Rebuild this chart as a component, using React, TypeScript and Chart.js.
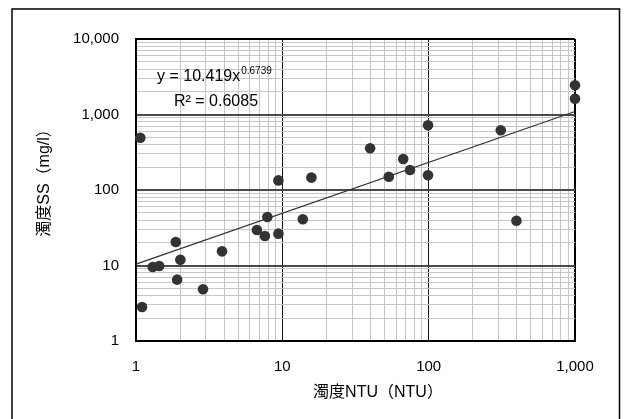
import React, { useEffect, useRef } from 'react';
import { Chart, registerables } from 'chart.js';

Chart.register(...registerables);

// ---- data ----
const turbidityNTU = [1.07, 1.1, 1.3, 1.44, 1.87, 1.91, 2.01, 2.87, 3.87, 6.7, 7.6, 7.9, 9.4, 9.4, 13.8, 15.8, 39.8, 53.4, 67, 74.6, 99, 99, 311, 398, 1000, 1000];
const turbiditySS = [493, 2.82, 9.55, 9.85, 20.5, 6.5, 11.9, 4.84, 15.4, 29.5, 24.6, 43.9, 134, 26.4, 41, 146, 357, 150, 257, 184, 719, 157, 618, 39.2, 2437, 1619];

const xTickLabels = ['1', '10', '100', '1,000'];
const yTickLabels = ['1', '10', '100', '1,000', '10,000'];
const xTitle = '濁度NTU（NTU）';
const yTitle = '濁度SS（mg/l）';

// power trendline shown in the chart: y = 10.419 x^0.6739, R² = 0.6085
const trendCoef = 10.419;
const trendExp = 0.6739;
const trendText = '10.419';
const trendExpText = '0.6739';
const rSquaredText = '0.6085';
const trendRange = [1, 1000];

const X_MIN = 1, X_MAX = 1000, Y_MIN = 1, Y_MAX = 10000;

const FONT = '"Liberation Sans", Arial, "Noto Sans CJK JP", sans-serif';

function logTickValues(min: number, max: number) {
  const out: number[] = [];
  for (let d = min; d < max; d *= 10) {
    for (let s = 1; s < 10; s++) out.push(Math.round(s * d));
  }
  out.push(max);
  return out;
}

function isDecade(v: number) {
  const l = Math.log10(v);
  return Math.abs(l - Math.round(l)) < 1e-9;
}

const annotate = {
  id: 'annotate',
  afterDraw(chart: any) {
    const ctx = chart.ctx as CanvasRenderingContext2D;
    ctx.save();
    // outer frame
    ctx.strokeStyle = '#000';
    ctx.lineWidth = 1.5;
    ctx.beginPath();
    ctx.moveTo(12, 430);
    ctx.lineTo(12, 9);
    ctx.lineTo(619.5, 9);
    ctx.lineTo(619.5, 430);
    ctx.stroke();

    ctx.fillStyle = '#000';
    // axis titles
    ctx.font = `16px ${FONT}`;
    ctx.textAlign = 'center';
    ctx.textBaseline = 'middle';
    ctx.fillText(xTitle, 378, 393);
    ctx.save();
    ctx.translate(44.5, 179);
    ctx.rotate(-Math.PI / 2);
    ctx.fillText(yTitle, 0, 0);
    ctx.restore();

    // trendline label
    ctx.textAlign = 'left';
    ctx.textBaseline = 'alphabetic';
    ctx.font = `16px ${FONT}`;
    const main = `y = ${trendText}x`;
    ctx.fillText(main, 157, 81);
    const w = ctx.measureText(main).width;
    ctx.font = `10px ${FONT}`;
    ctx.fillText(trendExpText, 157 + w + 1, 74);
    ctx.font = `16px ${FONT}`;
    ctx.fillText(`R² = ${rSquaredText}`, 174, 106);
    ctx.restore();
  },
};

export default function App() {
  const ref = useRef<HTMLCanvasElement | null>(null);

  useEffect(() => {
    if (!ref.current) return;
    Chart.defaults.font.family = FONT;
    Chart.defaults.color = '#000';

    const points = turbidityNTU.map((x, i) => ({ x, y: turbiditySS[i] }));
    const trend = trendRange.map((x) => ({ x, y: trendCoef * Math.pow(x, trendExp) }));

    const xTicks = logTickValues(X_MIN, X_MAX);
    const yTicks = logTickValues(Y_MIN, Y_MAX);

    const gridColor = (max: number, majorColor: string) => (c: any) => {
      const v = c.tick ? c.tick.value : 0;
      if (v === max) return '#000';
      return isDecade(v) ? majorColor : '#c6c6c6';
    };
    const gridWidth = (max: number, majorWidth: number) => (c: any) => {
      const v = c.tick ? c.tick.value : 0;
      if (v === max) return 2;
      return isDecade(v) ? majorWidth : 1;
    };

    const chart = new Chart(ref.current, {
      type: 'scatter',
      data: {
        datasets: [
          {
            type: 'line',
            label: 'trend',
            data: trend,
            borderColor: '#333',
            borderWidth: 1.2,
            pointRadius: 0,
            fill: false,
            showLine: true,
            clip: false,
          } as any,
          {
            label: 'SS',
            data: points,
            backgroundColor: '#333',
            borderWidth: 0,
            pointRadius: 5.3,
            clip: false,
          } as any,
        ],
      },
      options: {
        responsive: false,
        animation: false,
        layout: { padding: { top: 39, right: 50, left: 0, bottom: 0 } },
        plugins: { legend: { display: false }, tooltip: { enabled: false } },
        scales: {
          x: {
            type: 'logarithmic',
            min: X_MIN,
            max: X_MAX,
            afterBuildTicks: (s: any) => {
              s.ticks = xTicks.map((v) => ({ value: v, major: isDecade(v) }));
            },
            afterFit: (s: any) => {
              s.height = 78;
            },
            ticks: {
              autoSkip: false,
              maxRotation: 0,
              padding: 17,
              font: { size: 15 },
              color: '#000',
              callback: (v: any) => (isDecade(Number(v)) ? xTickLabels[Math.round(Math.log10(Number(v)))] : ''),
            },
            grid: {
              drawTicks: false,
              color: gridColor(X_MAX, '#111'),
              lineWidth: gridWidth(X_MAX, 1),
            },
            border: { color: '#000', width: 2 },
          },
          y: {
            type: 'logarithmic',
            min: Y_MIN,
            max: Y_MAX,
            afterBuildTicks: (s: any) => {
              s.ticks = yTicks.map((v) => ({ value: v, major: isDecade(v) }));
            },
            afterFit: (s: any) => {
              s.width = 136;
            },
            ticks: {
              autoSkip: false,
              padding: 17,
              font: { size: 15 },
              color: '#000',
              callback: (v: any) => (isDecade(Number(v)) ? yTickLabels[Math.round(Math.log10(Number(v)))] : ''),
            },
            grid: {
              drawTicks: false,
              color: gridColor(Y_MAX, '#4a4a4a'),
              lineWidth: gridWidth(Y_MAX, 2),
            },
            border: { color: '#000', width: 2 },
          },
        },
      },
      plugins: [annotate],
    });
    return () => chart.destroy();
  }, []);

  return (
    <div style={{ position: 'absolute', left: 0, top: 0, width: 625, height: 419, background: '#fff' }}>
      <canvas ref={ref} width={625} height={419} style={{ display: 'block' }} />
    </div>
  );
}
